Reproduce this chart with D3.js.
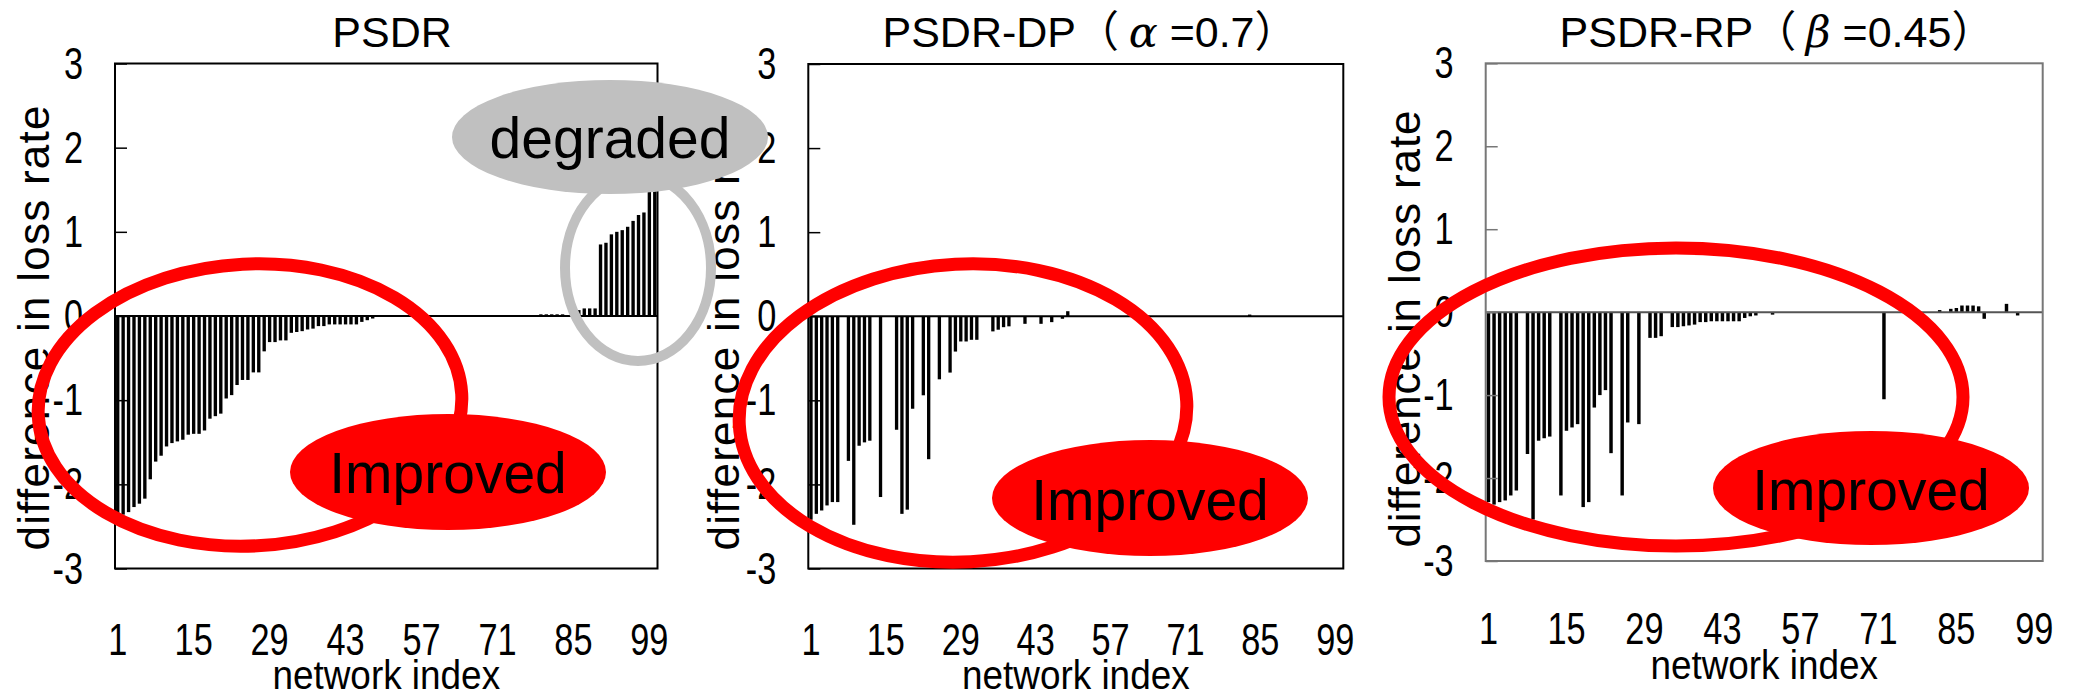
<!DOCTYPE html>
<html>
<head>
<meta charset="utf-8">
<script src="https://cdnjs.cloudflare.com/ajax/libs/d3/7.8.5/d3.min.js"></script>
<style>
body { margin: 0; background: #fff; }
</style>
</head>
<body>
<script>
var width = 2073;
var height = 693;

// network index 1..100 and the labelled ones
var networkIndex = d3.range(1, 101);
var xTickLabels = [1, 15, 29, 43, 57, 71, 85, 99];
var yTickLabels = [-3, -2, -1, 0, 1, 2, 3];

// difference in loss rate, one value per network
var psdr = [
  -2.38,-2.36,-2.33,-2.27,-2.23,-2.17,-1.94,-1.73,-1.66,-1.55,
  -1.51,-1.49,-1.47,-1.41,-1.40,-1.40,-1.36,-1.22,-1.19,-1.16,
  -0.98,-0.94,-0.82,-0.76,-0.76,-0.67,-0.67,-0.42,-0.31,-0.31,
  -0.29,-0.29,-0.20,-0.19,-0.18,-0.16,-0.15,-0.12,-0.12,-0.10,
  -0.10,-0.10,-0.10,-0.10,-0.10,-0.07,-0.05,-0.03,0,0,
  0,0,0,0,0,0,0,0,0,0,
  0,0,0,0,0,0,0,0,0,0,
  0,0,0,0,0,0,0,0,0.02,0.02,
  0.02,0.02,0.02,0,0,0.07,0.09,0.09,0.09,0.85,
  0.87,0.97,1.00,1.02,1.06,1.13,1.20,1.23,1.55,1.55
];

var psdrDP = [
  -2.42,-2.35,-2.31,-2.25,-2.21,-2.21,0,-1.72,-2.48,-1.54,
  -1.50,-1.48,0,-2.15,0,0,-1.35,-2.35,-2.30,-1.10,
  0,-0.94,-1.70,0,-0.75,0,-0.67,-0.42,-0.30,-0.30,
  -0.28,-0.28,0,0,-0.18,-0.16,-0.13,-0.12,0,0,
  -0.09,0,0,-0.09,0,-0.07,0,-0.03,0.06,0,
  0,0,0,0,0,0,0,0,0,0,
  0,0,0,0,0,0,0,0,0,0,
  0,0,0,0,0,0,0,0,0,0,
  0,0,0.02,0,0,0,0,0,0,0,
  0,0,0,0,0,0,0,0,0,0
];

var psdrRP = [
  -2.29,-2.32,-2.29,-2.27,-2.21,-2.15,0,-1.71,-2.50,-1.55,
  -1.52,-1.50,0,-2.21,-1.43,-1.39,-1.35,-2.35,-2.29,-1.15,
  -1.00,-0.94,-1.70,0,-2.21,-1.33,0,-1.35,0,-0.31,
  -0.31,-0.29,0,-0.18,-0.18,-0.17,-0.16,-0.15,-0.12,-0.12,
  -0.11,-0.11,-0.11,-0.11,-0.11,-0.11,-0.07,-0.05,-0.04,0,
  0,-0.03,0,0,0,0,0,0,0,0,
  0,0,0,0,0,0,0,0,0,0,
  0,-1.05,0,0,0,0,0,0,0,0,
  0,0.025,0,0.04,0.05,0.08,0.08,0.08,0.07,-0.08,
  0,0,0,0.10,0,-0.04,0,0,0,0
];

var panels = [
  {title: ["PSDR"], titleX: 392, data: psdr, left: 115, right: 657.5, top: 63.5, bottom: 568.5,
   frame: "#000", zero: "#000", tickY: 655, labelY: 689, yLabelX: 49, yLabelY: 328, yLabelLen: 445},
  {title: ["PSDR-DP", "（ ", "α", " =0.7", "）"], titleX: 1090, data: psdrDP, left: 808.3, right: 1343.3, top: 64, bottom: 568.5,
   frame: "#000", zero: "#000", tickY: 655, labelY: 689, yLabelX: 739, yLabelY: 328, yLabelLen: 445},
  {title: ["PSDR-RP", "（ ", "β", " =0.45", "）"], titleX: 1777, data: psdrRP, left: 1485.7, right: 2042.7, top: 63.3, bottom: 561,
   frame: "#777", zero: "#555", tickY: 644, labelY: 679, yLabelX: 1420, yLabelY: 329, yLabelLen: 437}
];

var svg = d3.select("body").append("svg")
  .attr("width", width)
  .attr("height", height)
  .style("display", "block");

var sans = "'Liberation Sans', Arial, sans-serif";

// condensed text: Liberation Sans squeezed sideways
function narrowText(sel, x, y, size, sx){
  return sel
    .attr("transform", "translate(" + x + "," + y + ") scale(" + sx + ",1)")
    .attr("font-family", sans)
    .attr("font-size", size);
}

panels.forEach(function(p){
  var g = svg.append("g");

  var x = d3.scaleBand()
    .domain(networkIndex)
    .range([p.left, p.right])
    .paddingInner(0.38)
    .paddingOuter(0.19);

  var y = d3.scaleLinear()
    .domain([-3, 3])
    .range([p.bottom, p.top]);

  // bars
  g.selectAll("rect.bar")
    .data(p.data.map(function(v, i){ return {i: networkIndex[i], v: v}; })
      .filter(function(d){ return d.v !== 0; }))
    .enter()
    .append("rect")
    .attr("class", "bar")
    .attr("x", function(d){ return x(d.i); })
    .attr("width", x.bandwidth())
    .attr("y", function(d){ return y(Math.max(0, d.v)); })
    .attr("height", function(d){ return Math.abs(y(d.v) - y(0)); })
    .attr("fill", "#000");

  // zero line
  g.append("line")
    .attr("x1", p.left).attr("x2", p.right)
    .attr("y1", y(0)).attr("y2", y(0))
    .attr("stroke", p.zero)
    .attr("stroke-width", 2);

  // frame
  g.append("rect")
    .attr("x", p.left).attr("y", p.top)
    .attr("width", p.right - p.left)
    .attr("height", p.bottom - p.top)
    .attr("fill", "none")
    .attr("stroke", p.frame)
    .attr("stroke-width", 2);

  // y axis, inner ticks only
  var ya = g.append("g")
    .attr("transform", "translate(" + p.left + ",0)")
    .call(d3.axisLeft(y).tickValues(yTickLabels).tickSize(-12).tickFormat(""));
  ya.select(".domain").remove();
  ya.selectAll(".tick line").attr("stroke", p.frame).attr("stroke-width", 1.5);

  g.selectAll("text.yt")
    .data(yTickLabels)
    .enter()
    .append("text")
    .attr("class", "yt")
    .each(function(d){ narrowText(d3.select(this), p.left - 32, y(d) + 15, 44, 0.78); })
    .attr("text-anchor", "end")
    .text(function(d){ return d; });

  // x tick labels
  g.selectAll("text.xt")
    .data(xTickLabels)
    .enter()
    .append("text")
    .attr("class", "xt")
    .each(function(d){ narrowText(d3.select(this), x(d) + x.bandwidth() / 2, p.tickY, 44, 0.78); })
    .attr("text-anchor", "middle")
    .text(function(d){ return d; });

  narrowText(g.append("text"), (p.left + p.right) / 2, p.labelY, 41, 0.9)
    .attr("text-anchor", "middle")
    .text("network index");

  g.append("text")
    .attr("transform", "translate(" + p.yLabelX + "," + p.yLabelY + ") rotate(-90)")
    .attr("text-anchor", "middle")
    .attr("font-family", sans)
    .attr("font-size", 44)
    .attr("textLength", p.yLabelLen)
    .attr("lengthAdjust", "spacing")
    .text("difference in loss rate");

  // title
  var t = g.append("text")
    .attr("x", p.titleX)
    .attr("y", 47)
    .attr("text-anchor", "middle")
    .attr("font-family", sans)
    .attr("font-size", 43);
  p.title.forEach(function(s){
    var ts = t.append("tspan").text(s);
    if (s == "α" || s == "β") ts.attr("font-style", "italic").attr("font-family", "'DejaVu Serif', serif");
    if (s.indexOf("（") >= 0 || s == "）") ts.attr("font-family", "'Noto Sans CJK JP', sans-serif");
  });
});

// annotations drawn over everything
var rings = [
  {cx: 250, cy: 405, rx: 212, ry: 141, rot: -3, color: "#ff0000", w: 13},
  {cx: 963, cy: 413, rx: 224, ry: 149, rot: -3, color: "#ff0000", w: 13},
  {cx: 1676, cy: 397, rx: 287, ry: 149, rot: 0, color: "#ff0000", w: 13},
  {cx: 638, cy: 268, rx: 73, ry: 93, rot: 0, color: "#c0c0c0", w: 10}
];
var labels = [
  {cx: 448, cy: 472, rx: 158, ry: 58, color: "#ff0000", text: "Improved", ty: 493},
  {cx: 1150, cy: 498, rx: 158, ry: 58, color: "#ff0000", text: "Improved", ty: 520},
  {cx: 1871, cy: 488, rx: 158, ry: 57, color: "#ff0000", text: "Improved", ty: 510},
  {cx: 610, cy: 137, rx: 158, ry: 57, color: "#c0c0c0", text: "degraded", ty: 158}
];

svg.selectAll("ellipse.ring")
  .data(rings)
  .enter()
  .append("ellipse")
  .attr("class", "ring")
  .attr("cx", function(d){ return d.cx; })
  .attr("cy", function(d){ return d.cy; })
  .attr("rx", function(d){ return d.rx; })
  .attr("ry", function(d){ return d.ry; })
  .attr("transform", function(d){ return "rotate(" + d.rot + "," + d.cx + "," + d.cy + ")"; })
  .attr("fill", "none")
  .attr("stroke", function(d){ return d.color; })
  .attr("stroke-width", function(d){ return d.w; });

var lab = svg.selectAll("g.lab")
  .data(labels)
  .enter()
  .append("g")
  .attr("class", "lab");

lab.append("ellipse")
  .attr("cx", function(d){ return d.cx; })
  .attr("cy", function(d){ return d.cy; })
  .attr("rx", function(d){ return d.rx; })
  .attr("ry", function(d){ return d.ry; })
  .attr("fill", function(d){ return d.color; });

lab.append("text")
  .attr("x", function(d){ return d.cx; })
  .attr("y", function(d){ return d.ty; })
  .attr("text-anchor", "middle")
  .attr("font-family", sans)
  .attr("font-size", 57)
  .attr("fill", "#000")
  .text(function(d){ return d.text; });
</script>
</body>
</html>
